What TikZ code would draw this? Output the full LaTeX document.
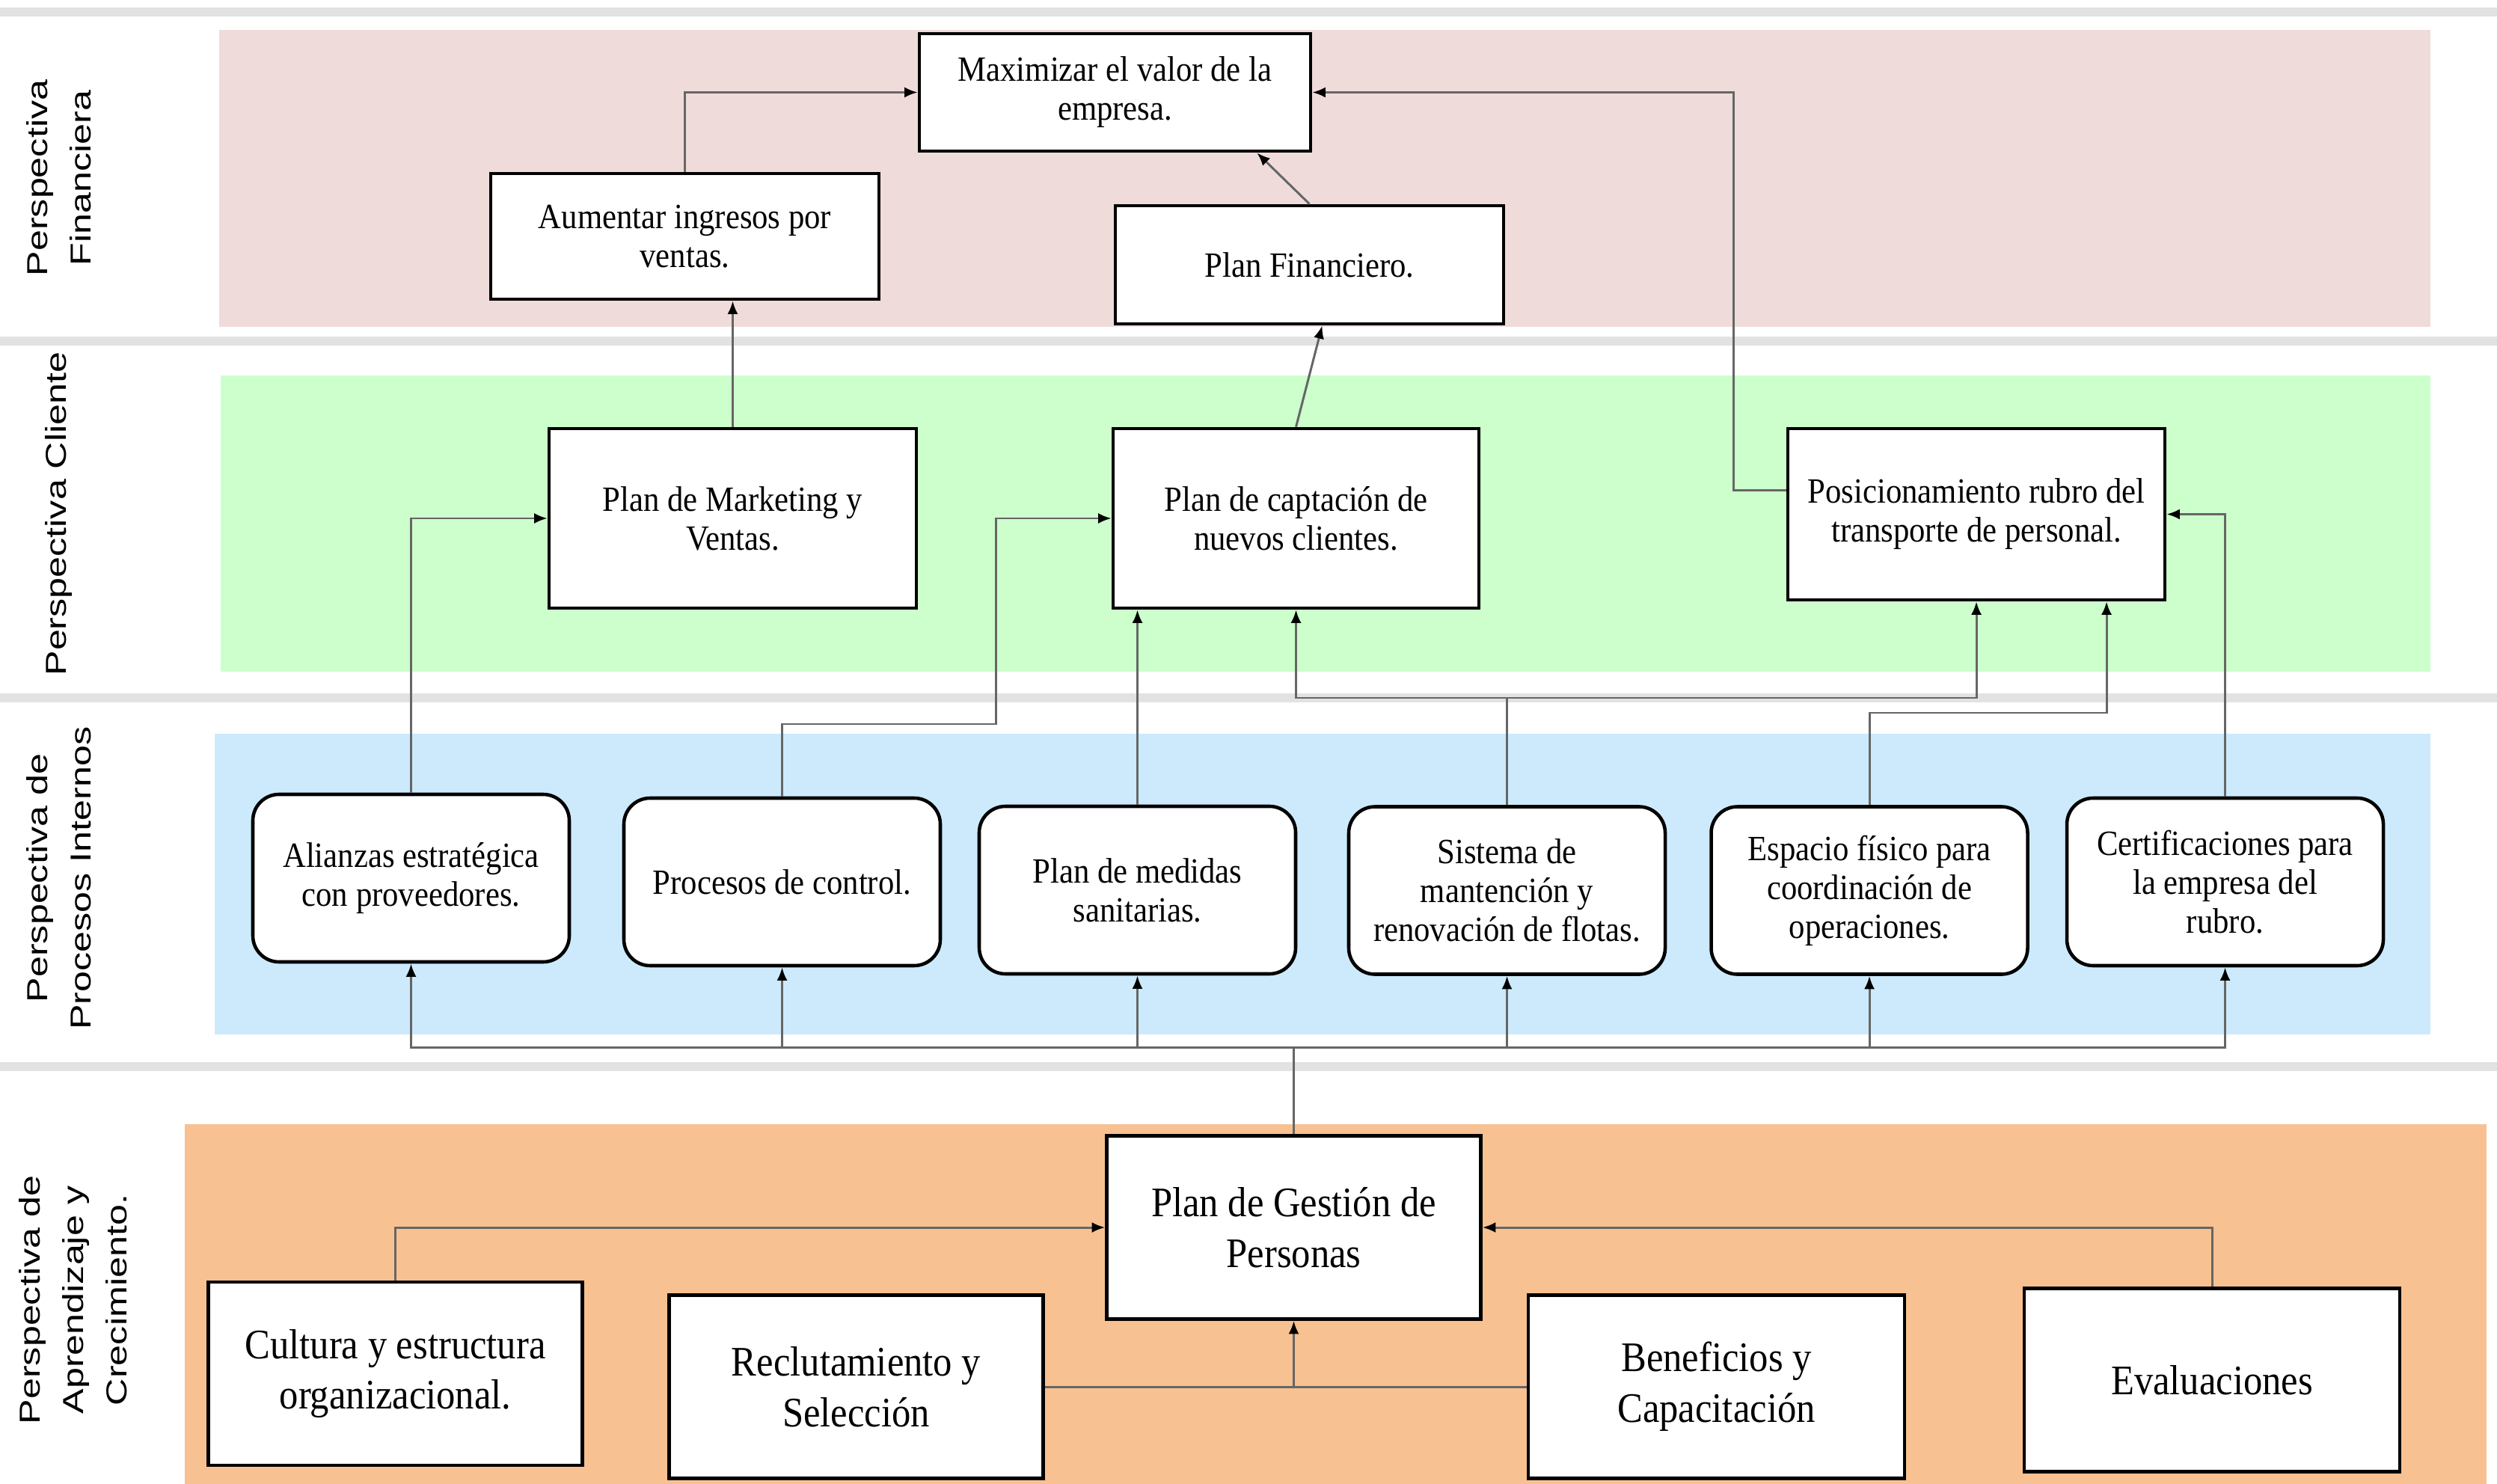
\documentclass[tikz,border=0pt]{standalone}
\usepackage{fontspec}
\setmainfont{Liberation Serif}[FakeStretch=0.9]
\newfontfamily\lblfont{Liberation Sans}[FakeStretch=1.3]
\usetikzlibrary{arrows.meta}

\definecolor{finpink}{RGB}{240,219,219}
\definecolor{cligreen}{RGB}{204,255,204}
\definecolor{problue}{RGB}{204,234,252}
\definecolor{aprorange}{RGB}{248,193,146}
\definecolor{sepgray}{RGB}{226,226,226}

\begin{document}
\begin{tikzpicture}[
	>={Latex[length=5pt,width=4pt,color=black]},
	conn/.style={draw=black!60, line width=0.85pt},
	box/.style={draw, line width=1.3pt, fill=white, align=center, inner sep=2pt, font=\fontsize{13.5}{14.8}\selectfont},
	rbox/.style={box, rounded corners=0.35cm, minimum width=4.23cm, minimum height=2.24cm},
	bigbox/.style={box, minimum width=5cm, minimum height=2.45cm, font=\fontsize{16}{19.3}\selectfont},
	sep/.style={draw=sepgray, line width=0.12cm},
	persp/.style={rotate=90, align=center, font=\lblfont\fontsize{11}{16.5}\selectfont},
]
	\useasboundingbox (0, 0) rectangle (33.38, -19.84);

	% franjas de fondo
	\fill[finpink]   (2.93, -0.40) rectangle (32.49, -4.37);
	\fill[cligreen]  (2.95, -5.02) rectangle (32.49, -8.98);
	\fill[problue]   (2.87, -9.81) rectangle (32.49, -13.83);
	\fill[aprorange] (2.47, -15.03) rectangle (33.24, -19.84);
	\foreach \y in {-0.16, -4.56, -9.33, -14.26}
		\draw[sep] (0, \y) -- (33.38, \y);

	\node[persp] (lfin) at (0.79, -2.38)  {Perspectiva\\Financiera};
	\node[persp] (lcli) at (0.79, -6.87)  {Perspectiva Cliente};
	\node[persp] (lpro) at (0.79, -11.74) {Perspectiva de\\Procesos Internos};
	\node[persp] (lapr) at (0.98, -17.38) {Perspectiva de\\Aprendizaje y\\Crecimiento.};

	% financiera
	\node[box, minimum width=5.23cm, minimum height=1.57cm] (max) at (14.905, -1.235) {Maximizar el valor de la\\empresa.};
	\node[box, minimum width=5.19cm, minimum height=1.68cm] (ing) at (9.155, -3.16)   {Aumentar ingresos por\\ventas.};
	\node[box, minimum width=5.19cm, minimum height=1.58cm] (fin) at (17.505, -3.54)  {Plan Financiero.};

	% cliente
	\node[box, minimum width=4.91cm, minimum height=2.40cm] (mkt) at (9.795, -6.93)   {Plan de Marketing y\\Ventas.};
	\node[box, minimum width=4.89cm, minimum height=2.40cm] (cap) at (17.325, -6.93)  {Plan de captación de\\nuevos clientes.};
	\node[box, minimum width=5.04cm, minimum height=2.29cm] (pos) at (26.42, -6.875)  {Posicionamiento rubro del\\transporte de personal.};

	% procesos internos
	\node[rbox] (ali) at (5.495, -11.74)  {Alianzas estratégica\\con proveedores.};
	\node[rbox] (pro) at (10.455, -11.79) {Procesos de control.};
	\node[rbox] (med) at (15.205, -11.90) {Plan de medidas\\sanitarias.};
	\node[rbox] (flo) at (20.145, -11.905) {Sistema de\\mantención y\\renovación de flotas.};
	\node[rbox] (esp) at (24.99, -11.905) {Espacio físico para\\coordinación de\\operaciones.};
	\node[rbox] (cer) at (29.745, -11.79) {Certificaciones para\\la empresa del\\rubro.};

	% aprendizaje y crecimiento
	\node[bigbox] (ges) at (17.295, -16.41) {Plan de Gestión de\\Personas};
	\node[bigbox] (cul) at (5.285, -18.365) {Cultura y estructura\\organizacional.};
	\node[bigbox] (rec) at (11.445, -18.54) {Reclutamiento y\\Selección};
	\node[bigbox, minimum width=5.03cm] (ben) at (22.945, -18.54) {Beneficios y\\Capacitación};
	\node[bigbox, minimum width=5.02cm] (eva) at (29.57, -18.45)  {Evaluaciones};

	\draw[conn, ->] (ing.north) |- (max.west);
	\draw[conn, ->] (fin.north) -- ([xshift=-0.74cm]max.south east);
	\draw[conn, ->] ([yshift=0.32cm]pos.west) -- ++(-0.70, 0) |- (max.east);

	\draw[conn, ->] (mkt.north) -- (mkt.north |- ing.south);
	\draw[conn, ->] (cap.north) -- ([xshift=0.17cm]fin.south);

	\draw[conn, ->] (ali.north) |- (mkt.west);
	\draw[conn, ->] (pro.north) |- (13.31, -9.68) |- (cap.west);
	\draw[conn, ->] (med.north) -- (med.north |- cap.south);
	\coordinate (jflo) at (20.145, -9.33);
	\draw[conn, ->] (flo.north) -- (jflo) -| (cap.south);
	\draw[conn, ->] (jflo) -| (pos.south);
	\coordinate (jesp) at (28.16, -9.53);
	\draw[conn, ->] (esp.north) |- (jesp) -- (jesp |- pos.south);
	\draw[conn, ->] (cer.north) |- (pos.east);

	\draw[conn] (ges.north) -- ++(0, 1.16) coordinate (bus);
	\foreach \n in {ali, pro, med, flo, esp, cer}
		\draw[conn, ->] (bus) -| (\n.south);

	\draw[conn, ->] (cul.north) |- (ges.west);
	\draw[conn, ->] (eva.north) |- (ges.east);
	\draw[conn] (rec.east) -- (ben.west);
	\draw[conn, ->] (rec.east -| ges.south) -- (ges.south);
\end{tikzpicture}
\end{document}
